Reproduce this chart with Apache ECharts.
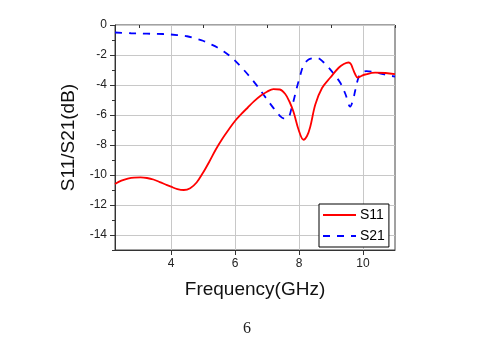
<!DOCTYPE html>
<html>
<head>
<meta charset="utf-8">
<script src="https://cdn.jsdelivr.net/npm/echarts@6/dist/echarts.min.js"></script>
<style>
  html, body { margin: 0; padding: 0; background: #fff; }
  #chart { width: 487px; height: 342px; }
</style>
</head>
<body>
<div id="chart"></div>
<script>
// Frequency sweep (GHz) and return loss S11 (dB)
var freqS11 = [2.25, 2.45, 2.65, 2.85, 3.05, 3.25, 3.45, 3.65, 3.85, 4.0, 4.2, 4.4, 4.6, 4.8, 5.0, 5.2, 5.4, 5.6, 5.8, 6.0, 6.2, 6.4, 6.6, 6.8, 7.0, 7.2, 7.4, 7.57, 7.7, 7.83, 7.99, 8.14, 8.25, 8.35, 8.51, 8.72, 8.98, 9.24, 9.4, 9.55, 9.62, 9.68, 9.76, 9.83, 9.95, 10.07, 10.38, 10.7, 11.0];
var s11 = [-10.6, -10.38, -10.24, -10.17, -10.16, -10.2, -10.3, -10.47, -10.65, -10.78, -10.94, -11.0, -10.88, -10.5, -9.85, -9.1, -8.3, -7.6, -6.98, -6.4, -5.93, -5.5, -5.08, -4.72, -4.45, -4.27, -4.3, -4.6, -5.1, -5.8, -7.0, -7.65, -7.4, -6.8, -5.3, -4.2, -3.5, -2.85, -2.6, -2.5, -2.6, -2.9, -3.3, -3.5, -3.4, -3.3, -3.18, -3.2, -3.27];

// Transmission S21 (dB)
var freqS21 = [2.25, 2.75, 3.25, 3.75, 4.19, 4.5, 4.76, 5.0, 5.23, 5.45, 5.62, 5.8, 6.0, 6.32, 6.63, 6.9, 7.21, 7.4, 7.52, 7.65, 7.78, 7.86, 7.94, 8.04, 8.14, 8.3, 8.5, 8.61, 8.75, 8.93, 9.1, 9.29, 9.45, 9.6, 9.7, 9.76, 9.86, 9.95, 10.1, 10.28, 10.5, 10.75, 11.0];
var s21 = [-0.5, -0.55, -0.58, -0.6, -0.67, -0.75, -0.9, -1.05, -1.27, -1.5, -1.73, -2.0, -2.38, -3.1, -3.89, -4.67, -5.56, -6.05, -6.22, -6.2, -5.44, -4.8, -4.11, -3.35, -2.7, -2.3, -2.2, -2.22, -2.45, -2.85, -3.3, -3.85, -4.6, -5.44, -4.9, -4.33, -3.5, -3.2, -3.08, -3.11, -3.2, -3.33, -3.44];

// Axis ticks
var xMajor = [4, 6, 8, 10];
var xMinor = [3, 5, 7, 9, 11];
var yMajor = [-14, -12, -10, -8, -6, -4, -2, 0];

function pairs(xs, ys) {
  return xs.map(function (x, i) { return [x, ys[i]]; });
}

var font = 'Arial, "Liberation Sans", sans-serif';
var axisColor = '#333';
var gridColor = '#c8c8c8';

var chart = echarts.init(document.getElementById('chart'), null, { renderer: 'canvas' });
chart.setOption({
  animation: false,
  backgroundColor: '#fff',
  grid: {
    left: 115, top: 25, right: 92, bottom: 92,
    show: true, borderColor: '#444', borderWidth: 1, backgroundColor: 'transparent'
  },
  legend: {
    data: ['S11', 'S21'],
    orient: 'vertical',
    left: 319, top: 204,
    itemWidth: 33, itemHeight: 12, itemGap: 7,
    padding: [4, 4, 4, 3],
    borderColor: '#000', borderWidth: 1,
    backgroundColor: '#fff',
    itemStyle: { opacity: 0 },
    textStyle: { fontFamily: font, fontSize: 14, color: '#000', padding: [0, 0, 0, -1] }
  },
  xAxis: [
    {
      type: 'value', min: 2.25, max: 11, position: 'bottom',
      name: 'Frequency(GHz)', nameLocation: 'middle', nameGap: 30,
      nameTextStyle: { fontFamily: font, fontSize: 19, color: '#111' },
      axisLine: { show: true, onZero: false, lineStyle: { color: axisColor, width: 1 } },
      axisTick: { show: true, inside: false, length: 5, customValues: xMajor, lineStyle: { color: axisColor } },
      axisLabel: { customValues: xMajor, fontFamily: font, fontSize: 12, color: '#222', margin: 8 },
      splitLine: { show: true, lineStyle: { color: gridColor, width: 1 } }
    },
    {
      type: 'value', min: 2.25, max: 11, position: 'bottom',
      axisLine: { show: false },
      axisTick: { show: true, inside: false, length: 3, customValues: xMinor, lineStyle: { color: axisColor } },
      axisLabel: { show: false },
      splitLine: { show: false }
    }
  ],
  yAxis: [
    {
      type: 'value', min: -15, max: 0, position: 'left',
      name: 'S11/S21(dB)', nameLocation: 'middle', nameGap: 36, nameRotate: 90,
      nameTextStyle: { fontFamily: font, fontSize: 19, color: '#111' },
      axisLine: { show: true, onZero: false, lineStyle: { color: axisColor, width: 1 } },
      axisTick: { show: true, inside: false, length: 5, customValues: yMajor, lineStyle: { color: axisColor } },
      axisLabel: { customValues: yMajor, fontFamily: font, fontSize: 12, color: '#222', margin: 8 },
      splitLine: { show: true, lineStyle: { color: gridColor, width: 1 } }
    },
    {
      type: 'value', min: -15, max: 0, interval: 1, position: 'left',
      axisLine: { show: false },
      axisTick: { show: true, inside: false, length: 3, lineStyle: { color: axisColor } },
      axisLabel: { show: false },
      splitLine: { show: false }
    }
  ],
  graphic: [
    {
      type: 'text', left: 243, top: 321,
      style: { text: '6', font: '16px "Liberation Serif", "Times New Roman", serif', fill: '#222' }
    }
  ],
  series: [
    {
      name: 'S11', type: 'line', xAxisIndex: 0, yAxisIndex: 0,
      data: pairs(freqS11, s11), smooth: 0.35, symbol: 'none',
      lineStyle: { color: '#ff0000', width: 1.8 }, itemStyle: { color: '#ff0000' }, z: 3
    },
    {
      name: 'S21', type: 'line', xAxisIndex: 0, yAxisIndex: 0,
      data: pairs(freqS21, s21), smooth: 0.35, symbol: 'none',
      lineStyle: { color: '#0000ff', width: 1.8, type: [7, 7] }, itemStyle: { color: '#0000ff' }, z: 2
    }
  ]
});
</script>
</body>
</html>
